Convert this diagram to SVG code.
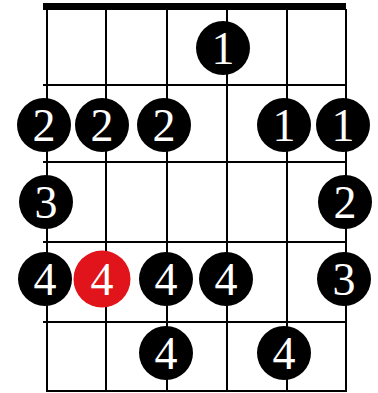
<svg xmlns="http://www.w3.org/2000/svg" width="378" height="393" viewBox="0 0 378 393">
<style>
.grid line{stroke:#000;stroke-width:2}
.dot circle{fill:#000}
.dot.root circle{fill:#e0141a}
.dot text{fill:#fff;font-size:46px;text-anchor:middle}
</style>
<rect width="378" height="393" fill="#fff"/>
<g id="grid" class="grid">
<rect x="43" y="3" width="303" height="7" fill="#000"/>
<line x1="47" y1="9" x2="47" y2="391"/>
<line x1="106" y1="9" x2="106" y2="391"/>
<line x1="167" y1="9" x2="167" y2="391"/>
<line x1="227" y1="9" x2="227" y2="391"/>
<line x1="287" y1="9" x2="287" y2="391"/>
<line x1="346" y1="9" x2="346" y2="391"/>
<line x1="43" y1="85" x2="346" y2="85"/>
<line x1="43" y1="162" x2="346" y2="162"/>
<line x1="43" y1="242" x2="346" y2="242"/>
<line x1="43" y1="322" x2="346" y2="322"/>
<line x1="46" y1="391" x2="347" y2="391"/>
</g>
<g font-family="Liberation Serif, Times New Roman, DejaVu Serif, serif">
<g id="d1" class="dot"><circle cx="223" cy="48" r="27"/><text x="223" y="64">1</text></g>
<g id="d2" class="dot"><circle cx="44" cy="125" r="27"/><text x="44" y="141">2</text></g>
<g id="d3" class="dot"><circle cx="102" cy="125" r="27"/><text x="102" y="141">2</text></g>
<g id="d4" class="dot"><circle cx="164" cy="125" r="27"/><text x="164" y="141">2</text></g>
<g id="d5" class="dot"><circle cx="284" cy="125" r="27"/><text x="284" y="141">1</text></g>
<g id="d6" class="dot"><circle cx="343" cy="125" r="27"/><text x="343" y="141">1</text></g>
<g id="d7" class="dot"><circle cx="46" cy="202" r="27"/><text x="46" y="218">3</text></g>
<g id="d8" class="dot"><circle cx="345" cy="202" r="27"/><text x="345" y="218">2</text></g>
<g id="d9" class="dot"><circle cx="45" cy="279" r="27"/><text x="45" y="295">4</text></g>
<g id="d10" class="dot root"><circle cx="102" cy="279" r="28.5"/><text x="102" y="295">4</text></g>
<g id="d11" class="dot"><circle cx="166" cy="279" r="27"/><text x="166" y="295">4</text></g>
<g id="d12" class="dot"><circle cx="226" cy="279" r="27"/><text x="226" y="295">4</text></g>
<g id="d13" class="dot"><circle cx="344" cy="279" r="27"/><text x="344" y="295">3</text></g>
<g id="d14" class="dot"><circle cx="166" cy="353" r="27"/><text x="166" y="369">4</text></g>
<g id="d15" class="dot"><circle cx="284" cy="353" r="27"/><text x="284" y="369">4</text></g>
</g>
</svg>
